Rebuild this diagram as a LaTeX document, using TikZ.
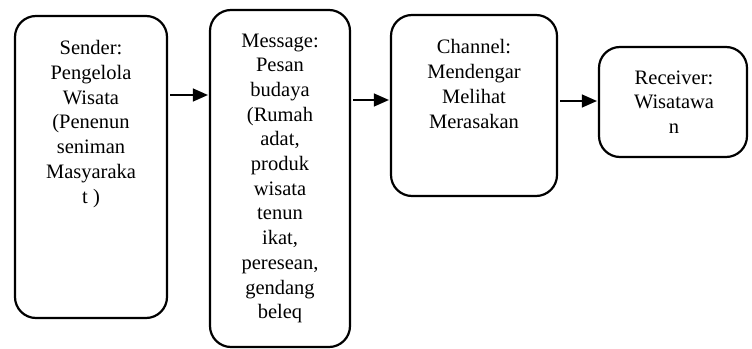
\documentclass[tikz,border=0pt]{standalone}
\usepackage{fontspec}
\setmainfont{Liberation Serif}
\usetikzlibrary{arrows.meta}
\begin{document}
\begin{tikzpicture}[x=1pt,y=-1pt,
  box/.style={draw, line width=2.2pt, rounded corners=21pt, inner sep=0pt},
  txt/.style={anchor=base, align=center, inner sep=0pt, font=\fontsize{20.5}{24.7}\selectfont},
  arr/.style={line width=1.3pt, -{Triangle[length=15pt,width=13pt]}, shorten <=2pt, shorten >=1pt}]
\useasboundingbox (0,0) rectangle (752,348);
\node[box, minimum width=152pt, minimum height=302pt] (s) at (91,167) {};
\node[box, minimum width=140pt, minimum height=337pt] (m) at (280,178.5) {};
\node[box, minimum width=166pt, minimum height=181pt] (c) at (474,105.5) {};
\node[box, minimum width=148pt, minimum height=110pt] (r) at (673,102) {};
\node[txt] (st) at (91,203) {Sender:\\Pengelola\\Wisata\\(Penenun\\seniman\\Masyaraka\\t )};
\node[txt] (mt) at (280,318.7) {Message:\\Pesan\\budaya\\(Rumah\\adat,\\produk\\wisata\\tenun\\ikat,\\peresean,\\gendang\\beleq};
\node[txt] (ct) at (474,128) {Channel:\\Mendengar\\Melihat\\Merasakan};
\node[txt] (rt) at (674,133.5) {Receiver:\\Wisatawa\\n};
\coordinate (y1) at (0,95);
\coordinate (y2) at (0,100);
\coordinate (y3) at (0,101);
\draw[arr] (s.east |- y1) -- (m.west |- y1);
\draw[arr] (m.east |- y2) -- (c.west |- y2);
\draw[arr] (c.east |- y3) -- (r.west |- y3);
\end{tikzpicture}
\end{document}
